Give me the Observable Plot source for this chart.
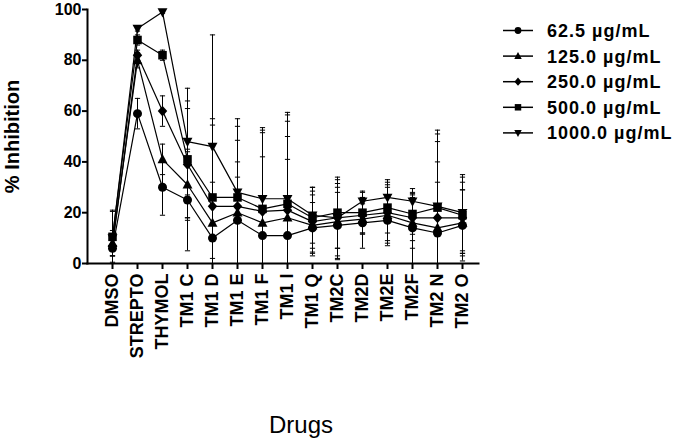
<!DOCTYPE html>
<html><head><meta charset="utf-8">
<script src="https://cdn.jsdelivr.net/npm/d3@7"></script>
<script src="https://cdn.jsdelivr.net/npm/@observablehq/plot@0.6"></script>
<style>
body{margin:0;background:#fff;}
#wrap{position:relative;width:680px;height:441px;}
#legend{position:absolute;left:0;top:0;}
</style></head><body><div id="wrap"></div>
<script>
const drugs = ["DMSO","STREPTO","THYMOL","TM1 C","TM1 D","TM1 E","TM1 F","TM1 I","TM1 Q","TM2C","TM2D","TM2E","TM2F","TM2 N","TM2 O"];
const seriesNames = ["62.5 µg/mL","125.0 µg/mL","250.0 µg/mL","500.0 µg/mL","1000.0 µg/mL"];
const yTicks = [0,20,40,60,80,100];

const mean62   = [6, 59, 30, 25, 10, 17, 11, 11, 14, 15, 16, 17, 14, 12, 15];
const mean125  = [8, 80, 41, 31, 16, 20, 16, 18, 15, 16.5, 17.5, 19, 16, 14, 16];
const mean250  = [7, 82, 60, 39, 22.5, 22.5, 20.5, 21, 16.5, 18, 19, 20, 18, 18, 18];
const mean500  = [10.5, 88, 82, 41, 26, 26, 21.5, 23.5, 18, 20, 20, 22, 19.5, 22, 19];
const mean1000 = [10, 92.5, 99, 48, 46, 28, 25.5, 25.5, 19, 18, 24.5, 26, 24.5, 22.5, 20];

const err62   = [3, 6, 11, 20, 12, 17, 11, 30, 10, 13, 10, 10, 14, 20, 14];
const err125  = [5, 3, 6, 13, 16, 20, 26, 32, 12, 15, 6, 11, 10, 26, 13];
const err250  = [4, 2, 6, 22, 32, 26, 31, 35, 12, 15, 7, 11, 9, 30, 14];
const err500  = [10, 2, 2, 23, 31, 28, 31, 35, 12, 14, 8, 10, 8, 29, 15];
const err1000 = [11, 1, 0.5, 21, 44, 29, 28, 34, 11, 12, 4, 7, 5, 30, 15];

const means = [mean62, mean125, mean250, mean500, mean1000];
const errs = [err62, err125, err250, err500, err1000];

const rows = [];
seriesNames.forEach((s, k) => {
  drugs.forEach((d, i) => {
    const v = means[k][i], e = errs[k][i];
    rows.push({drug: d, series: s, k, v, e, lo: Math.max(0, v - e), hi: v + e});
  });
});

const rad = s => Math.sqrt(s / Math.PI);
const symCircle = {draw(c, s){const r = rad(s); c.moveTo(r, 0); c.arc(0, 0, r, 0, 2 * Math.PI);}};
const symTriUp = {draw(c, s){const r = rad(s); c.moveTo(0, -1.2 * r); c.lineTo(1.1 * r, 0.85 * r); c.lineTo(-1.1 * r, 0.85 * r); c.closePath();}};
const symDiamond = {draw(c, s){const r = rad(s); c.moveTo(0, -1.2 * r); c.lineTo(1.05 * r, 0); c.lineTo(0, 1.2 * r); c.lineTo(-1.05 * r, 0); c.closePath();}};
const symSquare = {draw(c, s){const r = rad(s) * 0.95; c.rect(-r, -r, 2 * r, 2 * r);}};
const symTriDown = {draw(c, s){const r = rad(s); c.moveTo(0, 1.2 * r); c.lineTo(1.1 * r, -0.85 * r); c.lineTo(-1.1 * r, -0.85 * r); c.closePath();}};
const symCap = {draw(c, s){const r = rad(s); c.moveTo(-r, 0); c.lineTo(r, 0);}};
const syms = [symCircle, symTriUp, symDiamond, symSquare, symTriDown];

const FONT = "Liberation Sans, Arial, Helvetica, sans-serif";

const chart = Plot.plot({
  width: 680,
  height: 441,
  marginLeft: 87,
  marginRight: 202,
  marginTop: 9,
  marginBottom: 178,
  style: {fontFamily: FONT, color: "black", background: "white"},
  x: {type: "point", domain: drugs, padding: 0.667, align: 0.62},
  y: {domain: [0, 100]},
  marks: [
    Plot.ruleX(rows, {x: "drug", y1: "lo", y2: "hi", stroke: "black", strokeWidth: 1}),
    Plot.dot(rows, {x: "drug", y: "hi", symbol: symCap, r: 2.6, stroke: "black", strokeWidth: 1, fill: "none"}),
    Plot.dot(rows.filter(d => d.lo > 0), {x: "drug", y: "lo", symbol: symCap, r: 2.6, stroke: "black", strokeWidth: 1, fill: "none"}),
    Plot.line(rows, {x: "drug", y: "v", z: "series", stroke: "black", strokeWidth: 1.2}),
    ...seriesNames.map((s, k) => Plot.dot(rows.filter(d => d.series === s), {x: "drug", y: "v", symbol: syms[k], r: 4.5, fill: "black", stroke: "none"})),
    Plot.frame({anchor: "left", stroke: "black", strokeWidth: 2}),
    Plot.frame({anchor: "bottom", stroke: "black", strokeWidth: 2}),
    Plot.axisY({ticks: yTicks, tickSize: 5, tickPadding: 1, fontSize: 16, fontWeight: "bold", strokeWidth: 2, label: null}),
    Plot.axisX({tickRotate: -90, tickSize: 6, tickPadding: 4, fontSize: 18, fontWeight: "bold", strokeWidth: 2, label: null}),
    Plot.text(["% Inhibition"], {frameAnchor: "left", dx: -75, rotate: -90, textAnchor: "middle", lineAnchor: "middle", fontSize: 20, fontWeight: "bold", fill: "black"}),
    Plot.text(["Drugs"], {frameAnchor: "bottom", dx: 18, dy: 162, textAnchor: "middle", lineAnchor: "middle", fontSize: 24, fill: "black"})
  ]
});
document.getElementById("wrap").appendChild(chart);

// legend overlay
const leg = d3.select("#wrap").append("svg").attr("id", "legend").attr("width", 680).attr("height", 441);
seriesNames.forEach((s, k) => {
  const y = 30.5 + k * 25.6;
  const g = leg.append("g");
  g.append("line").attr("x1", 503).attr("x2", 533).attr("y1", y).attr("y2", y).attr("stroke", "black").attr("stroke-width", 1.5);
  g.append("path").attr("d", d3.symbol(syms[k], Math.PI * 3.4 * 3.4)()).attr("transform", `translate(518,${y})`).attr("fill", "black");
  g.append("text").attr("x", 547).attr("y", y).attr("dy", "0.36em").attr("font-family", FONT).attr("font-weight", "bold").attr("font-size", 18).attr("letter-spacing", "1px").text(s);
});
</script></body></html>
